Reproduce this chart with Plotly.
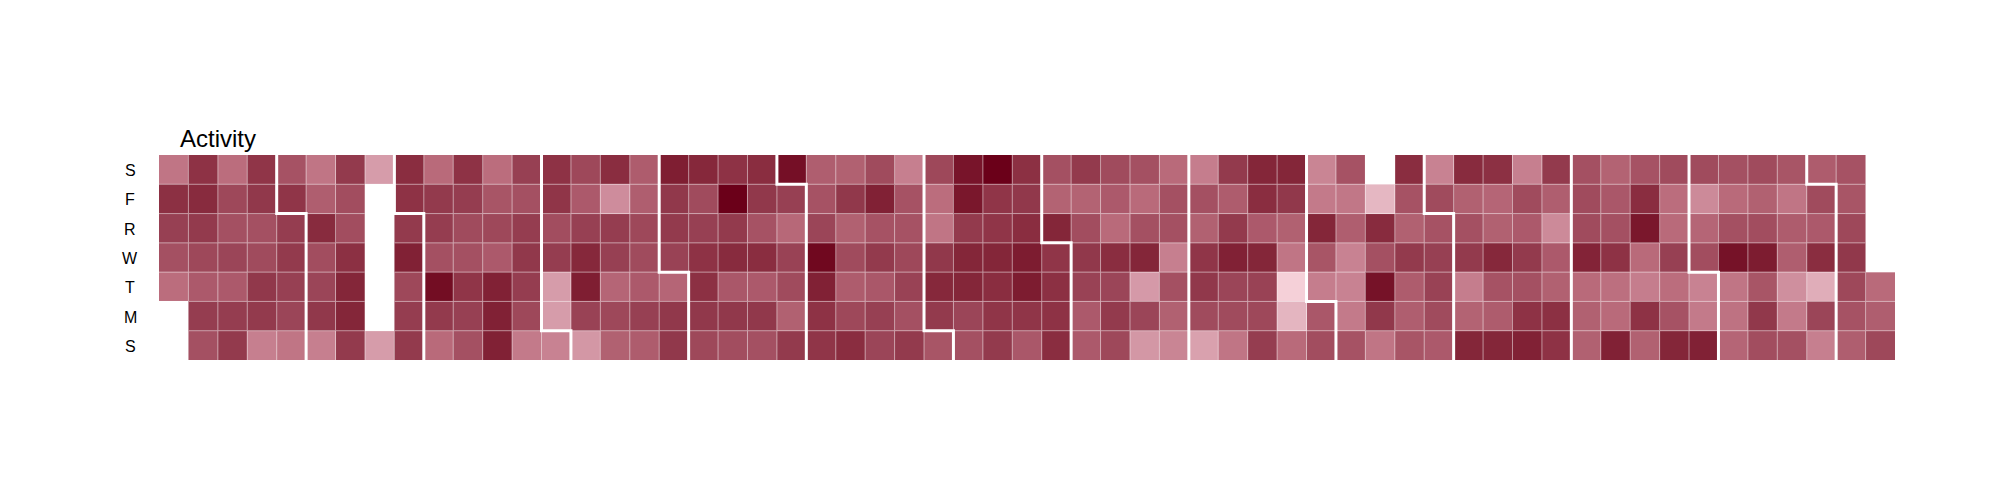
import datetime as dt
import plotly.graph_objects as go

N = None
row_labels = ["S", "F", "R", "W", "T", "M", "S"]
saturday = [.54,.80,.57,.79,.68,.54,.77,.39,.82,.58,.80,.57,.75,.80,.72,.82,.64,.88,.84,.80,.82,.94,.63,.62,.71,.50,.72,.92,1.0,.81,.69,.77,.71,.69,.58,.51,.77,.85,.85,.48,.68,N,.82,.49,.83,.81,.50,.77,.69,.61,.68,.71,.71,.69,.71,.67,.64,.68,N]
friday = [.81,.83,.72,.78,.79,.63,.70,N,.80,.77,.76,.67,.69,.79,.65,.45,.63,.78,.71,1.0,.78,.75,.68,.78,.87,.68,.57,.91,.79,.78,.61,.61,.65,.58,.69,.69,.64,.82,.78,.52,.53,.28,.68,.71,.62,.60,.71,.63,.71,.66,.82,.57,.46,.58,.62,.54,.71,.67,N]
thursday = [.75,.77,.69,.69,.76,.83,.70,N,.77,.76,.71,.72,.76,.70,.75,.76,.72,.77,.75,.77,.68,.59,.73,.62,.68,.68,.54,.77,.79,.82,.85,.70,.58,.69,.69,.62,.77,.65,.62,.85,.63,.83,.62,.68,.69,.62,.65,.46,.71,.69,.91,.58,.60,.69,.70,.64,.65,.72,N]
wednesday = [.69,.72,.73,.71,.77,.70,.81,N,.87,.69,.69,.65,.78,.76,.84,.75,.71,.74,.80,.83,.82,.74,.97,.71,.77,.72,.78,.85,.85,.89,.79,.78,.82,.85,.50,.79,.87,.85,.54,.67,.49,.69,.77,.75,.77,.84,.77,.65,.86,.80,.58,.75,.70,.93,.89,.63,.82,.78,N]
tuesday = [.57,.65,.65,.78,.75,.73,.85,N,.72,.95,.79,.87,.76,.39,.88,.60,.65,.60,.81,.66,.65,.71,.87,.64,.66,.74,.84,.85,.82,.89,.81,.74,.73,.40,.69,.78,.73,.74,.18,.51,.49,.93,.64,.74,.51,.68,.69,.62,.58,.56,.51,.57,.49,.54,.67,.44,.32,.72,.58]
monday = [N,.76,.76,.77,.73,.78,.85,N,.76,.77,.75,.87,.72,.39,.74,.72,.75,.78,.78,.78,.78,.62,.80,.72,.75,.69,.77,.73,.79,.79,.80,.65,.77,.73,.62,.71,.71,.72,.29,.66,.52,.78,.63,.71,.61,.64,.80,.81,.62,.58,.80,.68,.52,.55,.78,.52,.73,.68,.63]
sunday = [N,.69,.77,.50,.54,.50,.77,.39,.77,.58,.69,.87,.52,.49,.41,.62,.64,.78,.72,.70,.69,.77,.79,.82,.73,.77,.67,.69,.77,.66,.82,.65,.72,.41,.48,.37,.54,.76,.58,.70,.68,.54,.67,.65,.85,.85,.87,.80,.62,.87,.62,.85,.87,.60,.70,.69,.50,.63,.72]
rows = [saturday, friday, thursday, wednesday, tuesday, monday, sunday]
assert all(len(r) == 59 for r in rows), [len(r) for r in rows]

colorscale = [
    [0.00, "#ffffff"], [0.18, "#f5d0d8"], [0.28, "#e5b7c2"], [0.39, "#d69caa"],
    [0.49, "#c88292"], [0.58, "#b96a7a"], [0.69, "#a45062"], [0.76, "#953d50"],
    [0.82, "#8a2d40"], [0.89, "#7d1c30"], [1.00, "#6b0019"],
]

first_week = dt.date(2018, 12, 30)
month_starts = [dt.date(2019, m, 1) for m in range(2, 13)] + [dt.date(2020, 1, 1), dt.date(2020, 2, 1)]

n_cols, n_rows = len(saturday), len(rows)
fig = go.Figure()
fig.add_trace(go.Heatmap(
    z=rows, x=list(range(n_cols)), y=list(range(n_rows)),
    zmin=0, zmax=1, colorscale=colorscale, showscale=False, hoverongaps=False,
))

# thin translucent cell separators
gx, gy = [], []
for c in range(1, n_cols):
    gx += [c - .5, c - .5, None]
    gy += [-.5, n_rows - .5, None]
for r in range(1, n_rows):
    gx += [-.5, n_cols - .5, None]
    gy += [r - .5, r - .5, None]
fig.add_trace(go.Scatter(x=gx, y=gy, mode="lines", hoverinfo="skip", opacity=.5,
                         line=dict(color="white", width=1), showlegend=False))

# month boundaries, derived from the calendar
mx, my = [], []
for d in month_starts:
    col = (d - first_week).days // 7
    wd = (d.weekday() + 1) % 7  # Sunday = 0
    row = n_rows - 1 - wd
    if wd == 0:
        mx += [col - .5, col - .5, None]
        my += [-.5, n_rows - .5, None]
    else:
        mx += [col - .5, col - .5, col + .5, col + .5, None]
        my += [-.5, row + .5, row + .5, n_rows - .5, None]
fig.add_trace(go.Scatter(x=mx, y=my, mode="lines", hoverinfo="skip",
                         line=dict(color="white", width=3), showlegend=False))

for i, label in enumerate(row_labels):
    fig.add_annotation(x=-.0166, y=1 - (i + .5) / n_rows, yshift=-1, text=label, showarrow=False,
                       xref="paper", yref="paper", xanchor="center", yanchor="middle",
                       font=dict(family="Liberation Sans, Arial", size=16, color="black"))

fig.add_annotation(x=.0118, y=1.012, text="Activity", showarrow=False, xref="paper", yref="paper",
                   xanchor="left", yanchor="bottom", borderpad=0,
                   font=dict(family="Liberation Sans, Arial", size=24, color="black"))

fig.update_xaxes(range=[-.5, n_cols - .5], visible=False, fixedrange=True)
fig.update_yaxes(range=[n_rows - .5, -.5], visible=False, fixedrange=True)
fig.update_layout(
    width=1984, height=484, autosize=False, showlegend=False,
    paper_bgcolor="white", plot_bgcolor="white",
    margin=dict(l=151.3, r=97.3, t=147, b=132, pad=0),
)
fig.write_html("out.html")
